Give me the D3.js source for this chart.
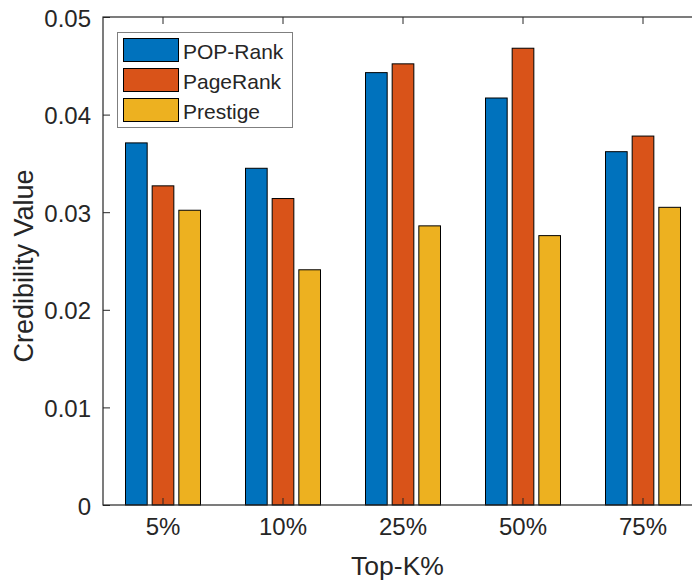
<!DOCTYPE html>
<html><head><meta charset="utf-8">
<script src="https://cdn.jsdelivr.net/npm/d3@7"></script>
<style>body{margin:0;background:#fff;}svg{display:block;}text{font-family:"Liberation Sans",Arial,Helvetica,sans-serif;fill:#262626;}</style>
</head><body>
<script>
const categories = ["5%","10%","25%","50%","75%"];
const series = ["POP-Rank","PageRank","Prestige"];
const popRank  = [0.0371, 0.0345, 0.0443, 0.0417, 0.0362];
const pageRank = [0.0327, 0.0314, 0.0452, 0.0468, 0.0378];
const prestige = [0.0302, 0.0241, 0.0286, 0.0276, 0.0305];
const yTicks = [0, 0.01, 0.02, 0.03, 0.04, 0.05];
const colors = ["#0072BD","#D95319","#EDB120"];
const values = [popRank, pageRank, prestige];

const W = 692, H = 581;
const L = 103, T = 17, B = 505, R = 703;
const svg = d3.select("body").append("svg").attr("width", W).attr("height", H);

const x0 = d3.scaleBand().domain(categories).range([L, R]).padding(0);
const x1 = d3.scaleBand().domain(series).range([22.5, 97.5]).paddingInner(0.1875).paddingOuter(0);
const y = d3.scaleLinear().domain([0, 0.05]).range([B, T]);

// bars
const g = svg.append("g");
categories.forEach((c, ci) => {
  series.forEach((s, si) => {
    g.append("rect")
      .attr("x", x0(c) + x1(s))
      .attr("y", y(values[si][ci]))
      .attr("width", x1.bandwidth())
      .attr("height", y(0) - y(values[si][ci]))
      .attr("fill", colors[si])
      .attr("stroke", "#000")
      .attr("stroke-width", 1);
  });
});

// axes
const axisColor = "#262626";
const yAxis = svg.append("g").attr("transform", `translate(${L},0)`)
  .call(d3.axisLeft(y).tickValues(yTicks).tickFormat(d => d === 0 ? "0" : d3.format(".2f")(d)).tickSize(-7).tickPadding(12));
const xAxis = svg.append("g").attr("transform", `translate(0,${B})`)
  .call(d3.axisBottom(x0).tickSize(-7).tickPadding(13));
const xTop = svg.append("g").attr("transform", `translate(0,${T})`)
  .call(d3.axisTop(x0).tickSize(-7).tickFormat(""));
[yAxis, xAxis, xTop].forEach(a => {
  a.select(".domain").remove();
  a.selectAll("line").attr("stroke", axisColor).attr("stroke-width", 1);
});
yAxis.selectAll("text").attr("font-size", 24).attr("fill", axisColor).attr("dy", "0.38em");
xAxis.selectAll("text").attr("font-size", 24).attr("fill", axisColor);

// frame
svg.append("rect").attr("x", L).attr("y", T).attr("width", R - L).attr("height", B - T)
  .attr("fill", "none").attr("stroke", axisColor).attr("stroke-width", 1.2);

// axis labels
svg.append("text").attr("x", (L + R - 11) / 2).attr("y", 575)
  .attr("text-anchor", "middle").attr("font-size", 26.5).text("Top-K%");
svg.append("text").attr("transform", `translate(33,266) rotate(-90)`)
  .attr("text-anchor", "middle").attr("font-size", 27).text("Credibility Value");

// legend
const lg = svg.append("g");
lg.append("rect").attr("x", 117.5).attr("y", 32.5).attr("width", 175).attr("height", 95)
  .attr("fill", "#fff").attr("stroke", "#7f7f7f").attr("stroke-width", 1);
series.forEach((s, i) => {
  const yy = 38 + i * 30;
  lg.append("rect").attr("x", 123.5).attr("y", yy + 0.5).attr("width", 55).attr("height", 23)
    .attr("fill", colors[i]).attr("stroke", "#000").attr("stroke-width", 1);
  lg.append("text").attr("x", 183).attr("y", yy + 20.5).attr("font-size", 21).attr("fill", "#000").text(s);
});
</script>
</body></html>
